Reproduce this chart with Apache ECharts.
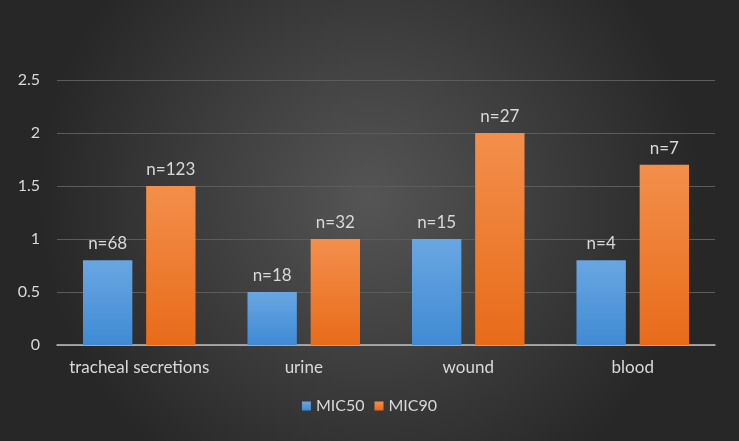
<!DOCTYPE html>
<html lang="en">
<head>
    <meta charset="UTF-8">
    <title>MIC chart</title>
    <script src="https://cdn.jsdelivr.net/npm/echarts@6/dist/echarts.min.js"></script>
    <style>
        html, body { margin: 0; padding: 0; background: #333; }
        #container { width: 739px; height: 441px; }
    </style>
</head>
<body>
    <div id="container"></div>
    <script>
        var categories = ['tracheal secretions', 'urine', 'wound', 'blood'];
        var mic50 = [0.8, 0.5, 1, 0.8];
        var mic90 = [1.5, 1, 2, 1.7];
        var n50 = ['n=68', 'n=18', 'n=15', 'n=4'];
        var n90 = ['n=123', 'n=32', 'n=27', 'n=7'];
        var yTicks = [0, 0.5, 1, 1.5, 2, 2.5];

        var textColor = '#d9d9d9';
        var font = 'Lato, "Open Sans", sans-serif';

        function grad(top, bottom) {
            return new echarts.graphic.LinearGradient(0, 0, 0, 1, [
                { offset: 0, color: top },
                { offset: 1, color: bottom }
            ]);
        }

        function labelFmt(arr) {
            return function (p) { return arr[p.dataIndex]; };
        }

        var myChart = echarts.init(document.getElementById('container'));

        var option = {
            backgroundColor: new echarts.graphic.RadialGradient(0.5, 0.45, 0.75, [
                { offset: 0, color: '#555555' },
                { offset: 1, color: '#272727' }
            ]),
            animation: false,
            textStyle: { fontFamily: font },
            grid: { left: 57, right: 24, top: 80, bottom: 96 },
            legend: {
                bottom: 22,
                itemWidth: 9,
                itemHeight: 9,
                itemGap: 10,
                icon: 'rect',
                textStyle: { color: textColor, fontSize: 16, fontFamily: font },
                data: ['MIC50', 'MIC90']
            },
            xAxis: {
                type: 'category',
                data: categories,
                axisLine: { lineStyle: { color: '#bfbfbf', width: 1.5 } },
                axisTick: { show: false },
                axisLabel: { color: textColor, fontSize: 17, margin: 14, interval: 0, fontFamily: font }
            },
            yAxis: {
                type: 'value',
                min: yTicks[0],
                max: yTicks[yTicks.length - 1],
                interval: 0.5,
                axisLine: { show: false },
                axisTick: { show: false },
                axisLabel: { color: textColor, fontSize: 16, margin: 17, fontFamily: font },
                splitLine: { lineStyle: { color: '#5c5c5c', width: 1 } }
            },
            series: [
                {
                    name: 'MIC50',
                    type: 'bar',
                    data: mic50,
                    barWidth: '30%',
                    barGap: '28%',
                    itemStyle: { color: grad('#69a6e2', '#3f8bd4') },
                    label: {
                        show: true,
                        position: 'top',
                        distance: 8,
                        color: textColor,
                        fontSize: 17,
                        fontFamily: font,
                        formatter: labelFmt(n50)
                    }
                },
                {
                    name: 'MIC90',
                    type: 'bar',
                    data: mic90,
                    barWidth: '30%',
                    itemStyle: { color: grad('#f38f4b', '#e86b19') },
                    label: {
                        show: true,
                        position: 'top',
                        distance: 8,
                        color: textColor,
                        fontSize: 17,
                        fontFamily: font,
                        formatter: labelFmt(n90)
                    }
                }
            ]
        };

        myChart.setOption(option);
    </script>
</body>
</html>
